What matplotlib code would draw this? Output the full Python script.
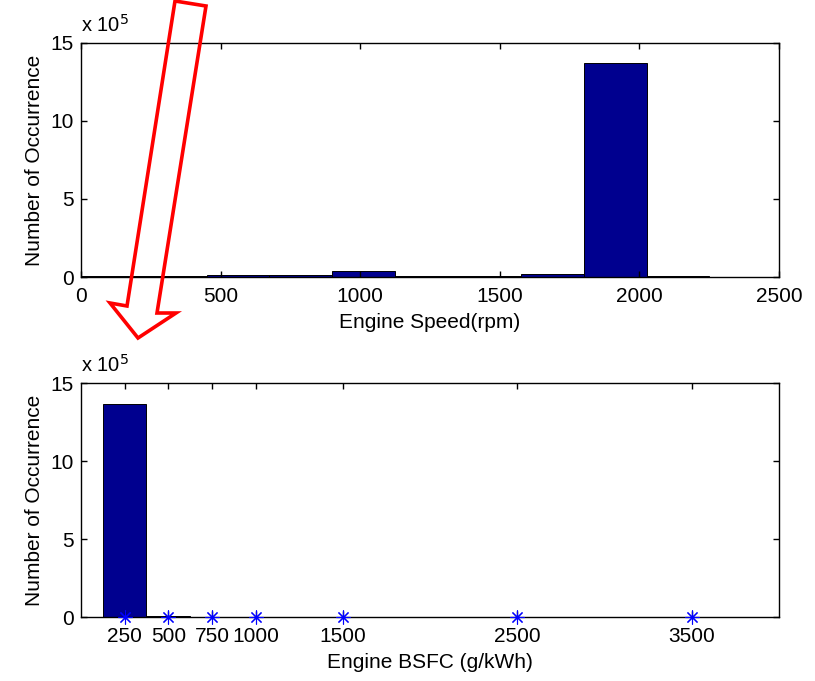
import matplotlib
matplotlib.use("Agg")
import matplotlib.pyplot as plt
from matplotlib.patches import Polygon
import numpy as np

plt.rcParams["font.family"] = ["Liberation Sans", "DejaVu Sans"]
plt.rcParams["font.size"] = 15

# engine speed histogram (10 bins from 0 to ~2251 rpm)
speed_edges = [0, 225, 450, 675, 900, 1126, 1351, 1576, 1801, 2026, 2251]
speed_counts = [8000, 8000, 15000, 15000, 40000, 8000, 8000, 19000, 1372000, 8000]

# engine BSFC histogram (bin centres 250 ... 3500 g/kWh)
bsfc_centers = [250, 500, 750, 1000, 1500, 2500, 3500]
bsfc_edges = [125, 375, 625, 875, 1250, 2000, 3000, 4000]
bsfc_counts = [1366000, 6000, 5000, 4000, 3000, 2000, 1500]

BAR = "#00008F"
W, H = 815, 681

fig = plt.figure(figsize=(W / 100, H / 100), dpi=100, facecolor="white")
ax1 = fig.add_axes([81 / W, 1 - 277 / H, 698 / W, 234 / H])
ax2 = fig.add_axes([81 / W, 1 - 617.3 / H, 698 / W, 234 / H])


def style(ax):
    ax.set_ylim(0, 15e5)
    ax.set_yticks([0, 5e5, 10e5, 15e5])
    ax.set_yticklabels(["0", "5", "10", "15"])
    ax.tick_params(direction="in", top=True, right=True, length=4, width=1, pad=5)
    ax.tick_params(axis="x", pad=7)
    for s in ax.spines.values():
        s.set_linewidth(1.0)
    ax.set_ylabel("Number of Occurrence", labelpad=5)
    ax.text(0, 1.03, r"x 10$^5$", transform=ax.transAxes, ha="left", va="bottom", fontsize=14.5)


# top: engine speed
e = np.array(speed_edges)
ax1.bar(e[:-1], speed_counts, width=np.diff(e), align="edge", color=BAR, edgecolor="black", linewidth=0.7)
ax1.set_xlim(0, 2500)
ax1.set_xticks([0, 500, 1000, 1500, 2000, 2500])
ax1.set_xlabel("Engine Speed(rpm)", labelpad=5)
style(ax1)

# bottom: engine BSFC
e = np.array(bsfc_edges)
ax2.bar(e[:-1], bsfc_counts, width=np.diff(e), align="edge", color=BAR, edgecolor="black", linewidth=0.7)
ax2.plot(bsfc_centers, np.zeros(len(bsfc_centers)), linestyle="none", marker=(8, 2, 0),
         markersize=10, color="#0000FF", markeredgewidth=0.8, clip_on=False, zorder=5)
ax2.set_xlim(0, 4000)
ax2.set_xticks(bsfc_centers)
ax2.set_xlabel("Engine BSFC (g/kWh)", labelpad=5)
style(ax2)

# red hollow arrow annotation (pixel positions of the original image)
arrow_px = [(175, 1), (206, 6), (157, 313), (176, 313), (138, 338), (110, 303), (127, 306)]
arrow = Polygon([(x / W, 1 - y / H) for x, y in arrow_px], closed=True, fill=False,
                edgecolor="#FF0000", linewidth=2.6, transform=fig.transFigure, zorder=10)
fig.add_artist(arrow)

fig.savefig("out.png", dpi=100, facecolor="white")
